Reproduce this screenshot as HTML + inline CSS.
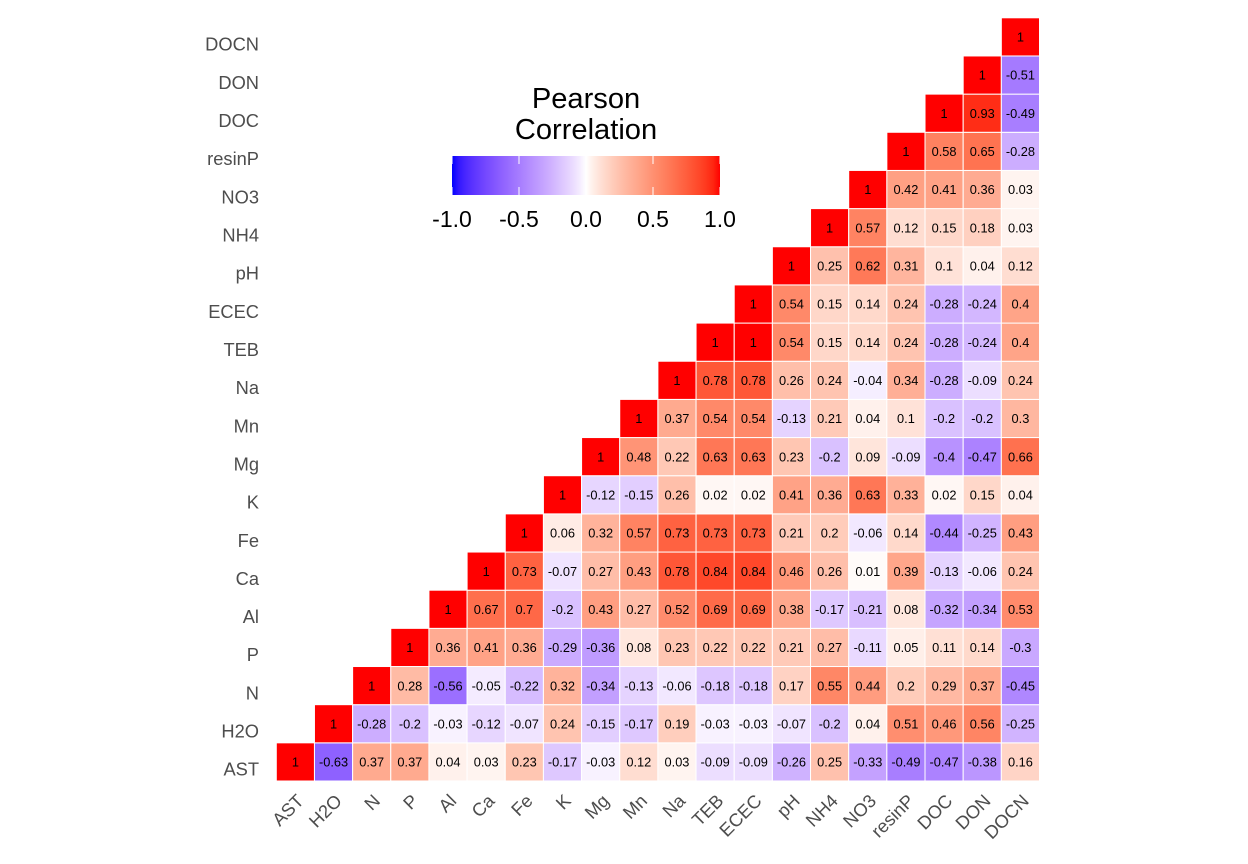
<!DOCTYPE html>
<html lang="en">
<head>
<meta charset="utf-8">
<title>Pearson Correlation Heatmap</title>
<style>
html,body{margin:0;padding:0;background:#fff;width:1248px;height:864px;overflow:hidden}
svg{display:block;font-family:"Liberation Sans",Arial,sans-serif}
</style>
</head>
<body>
<svg id="chart" xmlns="http://www.w3.org/2000/svg" width="1248" height="864" viewBox="0 0 1248 864">
  <rect width="1248" height="864" fill="#ffffff"/>
  <g id="cells"></g>
  <g id="cell-labels"></g>
  <g id="x-axis"></g>
  <g id="y-axis"></g>
  <g id="legend">
    <defs>
      <linearGradient id="legend-gradient" x1="0" x2="1" y1="0" y2="0"></linearGradient>
    </defs>
    <text x="586" y="108" font-size="29.1" text-anchor="middle" fill="#000">Pearson</text>
    <text x="586" y="139" font-size="29.1" text-anchor="middle" fill="#000">Correlation</text>
    <rect x="452" y="156" width="268" height="39" fill="url(#legend-gradient)"/>
    <g id="legend-ticks"></g>
  </g>
</svg>
<script>
const variables = ["AST","H2O","N","P","Al","Ca","Fe","K","Mg","Mn","Na","TEB","ECEC","pH","NH4","NO3","resinP","DOC","DON","DOCN"];
const correlationRows = [
  [1,-0.63,0.37,0.37,0.04,0.03,0.23,-0.17,-0.03,0.12,0.03,-0.09,-0.09,-0.26,0.25,-0.33,-0.49,-0.47,-0.38,0.16],
  [1,-0.28,-0.2,-0.03,-0.12,-0.07,0.24,-0.15,-0.17,0.19,-0.03,-0.03,-0.07,-0.2,0.04,0.51,0.46,0.56,-0.25],
  [1,0.28,-0.56,-0.05,-0.22,0.32,-0.34,-0.13,-0.06,-0.18,-0.18,0.17,0.55,0.44,0.2,0.29,0.37,-0.45],
  [1,0.36,0.41,0.36,-0.29,-0.36,0.08,0.23,0.22,0.22,0.21,0.27,-0.11,0.05,0.11,0.14,-0.3],
  [1,0.67,0.7,-0.2,0.43,0.27,0.52,0.69,0.69,0.38,-0.17,-0.21,0.08,-0.32,-0.34,0.53],
  [1,0.73,-0.07,0.27,0.43,0.78,0.84,0.84,0.46,0.26,0.01,0.39,-0.13,-0.06,0.24],
  [1,0.06,0.32,0.57,0.73,0.73,0.73,0.21,0.2,-0.06,0.14,-0.44,-0.25,0.43],
  [1,-0.12,-0.15,0.26,0.02,0.02,0.41,0.36,0.63,0.33,0.02,0.15,0.04],
  [1,0.48,0.22,0.63,0.63,0.23,-0.2,0.09,-0.09,-0.4,-0.47,0.66],
  [1,0.37,0.54,0.54,-0.13,0.21,0.04,0.1,-0.2,-0.2,0.3],
  [1,0.78,0.78,0.26,0.24,-0.04,0.34,-0.28,-0.09,0.24],
  [1,1,0.54,0.15,0.14,0.24,-0.28,-0.24,0.4],
  [1,0.54,0.15,0.14,0.24,-0.28,-0.24,0.4],
  [1,0.25,0.62,0.31,0.1,0.04,0.12],
  [1,0.57,0.12,0.15,0.18,0.03],
  [1,0.42,0.41,0.36,0.03],
  [1,0.58,0.65,-0.28],
  [1,0.93,-0.49],
  [1,-0.51],
  [1]
];
const legendTicks = [-1, -0.5, 0, 0.5, 1];
const legendTickLabels = ["-1.0", "-0.5", "0.0", "0.5", "1.0"];

const NS = "http://www.w3.org/2000/svg";
const plotLeft = 276.3, plotBottom = 781, step = 38.16;
const xScale = i => plotLeft + step * i;
const yScale = j => plotBottom - step * (j + 1);
const legendX = v => 452 + (v + 1) / 2 * 268;

function labToHex(L, a, b) {
  const fy = (L + 16) / 116, fx = fy + a / 500, fz = fy - b / 200;
  const inv = t => t > 6 / 29 ? t * t * t : 3 * (6 / 29) * (6 / 29) * (t - 4 / 29);
  const X = 0.95047 * inv(fx), Y = inv(fy), Z = 1.08883 * inv(fz);
  const lin = [
    3.2406 * X - 1.5372 * Y - 0.4986 * Z,
    -0.9689 * X + 1.8758 * Y + 0.0415 * Z,
    0.0557 * X - 0.2040 * Y + 1.0570 * Z
  ];
  return "#" + lin.map(c => {
    c = Math.min(1, Math.max(0, c));
    const s = c <= 0.0031308 ? 12.92 * c : 1.055 * Math.pow(c, 1 / 2.4) - 0.055;
    return Math.round(s * 255).toString(16).padStart(2, "0");
  }).join("");
}
const labBlue = [32.3, 79.19, -107.86], labRed = [53.24, 80.09, 67.2], labWhite = [100, 0, 0];
function colorScale(v, gamma) {
  const end = v < 0 ? labBlue : labRed, t = Math.pow(Math.min(1, Math.abs(v)), gamma);
  return labToHex(
    labWhite[0] + (end[0] - labWhite[0]) * t,
    labWhite[1] + (end[1] - labWhite[1]) * t,
    labWhite[2] + (end[2] - labWhite[2]) * t
  );
}
function make(tag, attrs, parent, text) {
  const el = document.createElementNS(NS, tag);
  for (const k in attrs) el.setAttribute(k, attrs[k]);
  if (text !== undefined) el.textContent = text;
  parent.appendChild(el);
  return el;
}

const cellsG = document.getElementById("cells");
const labelsG = document.getElementById("cell-labels");
const xAxisG = document.getElementById("x-axis");
const yAxisG = document.getElementById("y-axis");

correlationRows.forEach((row, j) => {
  row.forEach((value, k) => {
    const i = j + k;
    const rect = make("rect", {x: xScale(i), y: yScale(j), width: step, height: step, fill: colorScale(value, 0.82), stroke: "#ffffff", "stroke-width": 1}, cellsG);
    
    
    const label = make("text", {x: xScale(i) + step / 2, y: yScale(j) + step / 2 + 4.7, "font-size": 12.8, "text-anchor": "middle", fill: "#000"}, labelsG, String(value));
    
    
  });
});

variables.forEach((name, i) => {
  const cx = xScale(i) + step / 2;
  const ax = cx + 9.5, ay = 802;
  const xl = make("text", {x: ax, y: ay, "font-size": 18.3, "text-anchor": "end", fill: "#4d4d4d", transform: "rotate(-45 " + ax + " " + ay + ")"}, xAxisG, name);
  
  
  const yl = make("text", {x: 259, y: yScale(i) + step / 2 + 13.8, "font-size": 18.3, "text-anchor": "end", fill: "#4d4d4d"}, yAxisG, name);
  
  
});

const grad = document.getElementById("legend-gradient");
for (let s = 0; s <= 40; s++) {
  const v = -1 + s / 20;
  make("stop", {offset: (s / 40 * 100) + "%", "stop-color": colorScale(v, 0.82)}, grad);
}
const ticksG = document.getElementById("legend-ticks");
legendTicks.forEach((v, idx) => {
  const x = legendX(v);
  const t1 = make("line", {x1: x, x2: x, y1: 156, y2: 164, stroke: "#ffffff", "stroke-width": 1}, ticksG);
  
  
  const t2 = make("line", {x1: x, x2: x, y1: 187, y2: 195, stroke: "#ffffff", "stroke-width": 1}, ticksG);
  
  
  const lab = make("text", {x: x, y: 227, "font-size": 23, "text-anchor": "middle", fill: "#000"}, ticksG, legendTickLabels[idx]);
  
  
});
</script>
</body>
</html>
